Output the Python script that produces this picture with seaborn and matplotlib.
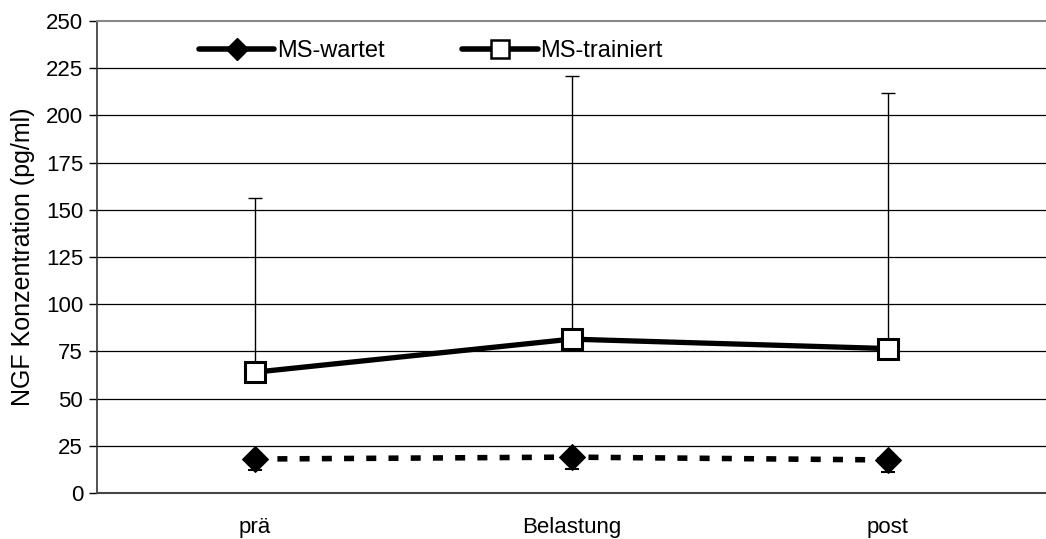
import numpy as np
import pandas as pd
import matplotlib
matplotlib.use("Agg")
import matplotlib.pyplot as plt
import seaborn as sns
from matplotlib.lines import Line2D

phases = ["prä", "Belastung", "post"]
wartet_mean = [18, 19, 17.5]
wartet_sd = [6, 6.5, 6.5]
trainiert_mean = [64, 81.5, 76.5]
trainiert_sd = [92, 139.5, 135.5]
yticks = [0, 25, 50, 75, 100, 125, 150, 175, 200, 225, 250]

sns.set_theme(style="white")
plt.rcParams["font.family"] = ["Liberation Sans", "DejaVu Sans"]
plt.rcParams["text.color"] = "black"
plt.rcParams["axes.labelcolor"] = "black"
plt.rcParams["xtick.color"] = "black"
plt.rcParams["ytick.color"] = "black"

pos = np.arange(len(phases))
df = pd.DataFrame({
    "pos": np.concatenate([pos, pos]),
    "wert": wartet_mean + trainiert_mean,
    "gruppe": ["MS-wartet"] * 3 + ["MS-trainiert"] * 3,
})

fig = plt.figure(figsize=(10.46, 5.39), dpi=100)
ax = fig.add_axes([97 / 1046, 1 - 493 / 539, 1 - 97 / 1046, (493 - 21) / 539])

# horizontal grid
for v in yticks[1:-1]:
    ax.axhline(v, color="black", lw=0.9, zorder=0)

# error bars: trainiert upward, wartet downward
ax.errorbar(pos, trainiert_mean, yerr=[np.zeros(3), trainiert_sd], fmt="none",
            ecolor="black", elinewidth=1, capsize=5, capthick=1, zorder=2)
ax.errorbar(pos, wartet_mean, yerr=[wartet_sd, np.zeros(3)], fmt="none",
            ecolor="black", elinewidth=1.2, capsize=5, capthick=1.5, zorder=2)

sub_w = df[df.gruppe == "MS-wartet"]
sub_t = df[df.gruppe == "MS-trainiert"]
sns.lineplot(data=sub_w, x="pos", y="wert", ax=ax, color="black", lw=4,
             linestyle=(0, (1.8, 2.2)), marker="D", markersize=13,
             markerfacecolor="black", markeredgecolor="black", zorder=3,
             legend=False)
sns.lineplot(data=sub_t, x="pos", y="wert", ax=ax, color="black", lw=3.8,
             marker="s", markersize=14, markerfacecolor="white",
             markeredgecolor="black", markeredgewidth=2.2, zorder=4,
             legend=False)

handles = [
    Line2D([], [], color="black", lw=4, marker="D", markersize=11,
           markerfacecolor="black"),
    Line2D([], [], color="black", lw=4, marker="s", markersize=13,
           markerfacecolor="white", markeredgewidth=1.8),
]
ax.legend(handles, ["MS-wartet", "MS-trainiert"], ncol=2, frameon=False,
          loc="upper left", bbox_to_anchor=(0.085, 1.005), fontsize=17,
          handlelength=3.2, handletextpad=0.1, columnspacing=3.3)

ax.set_xlim(-0.5, 2.5)
ax.set_ylim(0, 250)
ax.set_yticks(yticks)
ax.set_xticks(pos)
ax.set_xticklabels(phases, fontsize=16)
ax.set_xticks([-0.5, 0.5, 1.5], minor=True)
ax.tick_params(axis="x", which="major", length=0, pad=17)
ax.tick_params(axis="x", which="minor", length=6, width=1, color="black",
               direction="out")
ax.tick_params(axis="y", length=6, width=1, color="black", direction="out",
               labelsize=16, left=True, pad=4)
ax.set_ylabel("NGF Konzentration (pg/ml)", fontsize=18, labelpad=8)
ax.set_xlabel("")

ax.spines["right"].set_visible(False)
ax.spines["top"].set_color("#888888")
ax.spines["top"].set_linewidth(1.5)
ax.spines["left"].set_color("#333333")
ax.spines["left"].set_linewidth(1.2)
ax.spines["bottom"].set_color("#444444")
ax.spines["bottom"].set_linewidth(1.5)

fig.savefig("out.png", dpi=100)
